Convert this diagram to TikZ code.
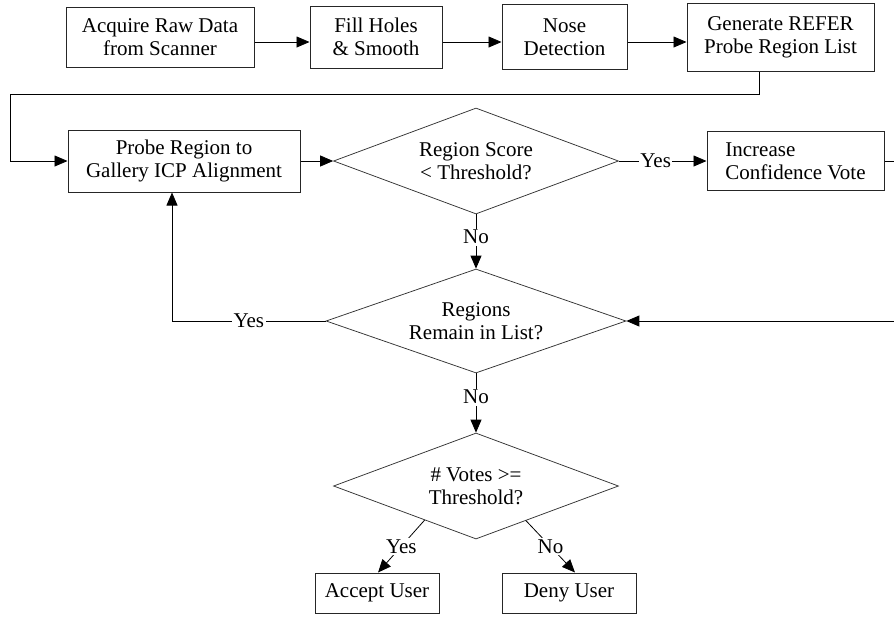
\documentclass[tikz,border=0pt]{standalone}
\usepackage{fontspec}
\setmainfont{Liberation Serif}
\usetikzlibrary{shapes.geometric,arrows.meta,calc}
\begin{document}
\begin{tikzpicture}[x=1pt,y=-1pt,
  every node/.style={font=\fontsize{21}{23}\selectfont, inner sep=0pt},
  box/.style={draw=black!85, line width=1pt, align=center},
  dia/.style={draw=black!80, diamond, line width=0.75pt, align=center, aspect=2.7},
  arr/.style={line width=0.8pt, -{Triangle[length=13pt,width=11pt]}},
  lbl/.style={fill=white, inner sep=1.5pt}]
\useasboundingbox (0,0) rectangle (894,616);
% top row
\node[box, minimum width=188, minimum height=60] (b1) at (160,37) {Acquire Raw Data\\from Scanner};
\node[box, minimum width=132, minimum height=62] (b2) at (376,37) {Fill Holes\\\& Smooth};
\node[box, minimum width=125, minimum height=65] (b3) at (564.5,37) {Nose\\Detection};
\node[box, minimum width=187, minimum height=68] (b4) at (780.5,37) {Generate REFER\\Probe Region List};
% second row
\node[box, minimum width=232, minimum height=62] (b5) at (184,161) {Probe Region to\\Gallery ICP Alignment};
\node[dia, minimum width=285, minimum height=106] (d1) at (476,161) {Region Score\\< Threshold?};
\node[box, align=left, minimum width=177, minimum height=59] (b6) at (795.5,161) {Increase\\Confidence Vote};
% lower
\node[dia, minimum width=300, minimum height=104] (d2) at (476,321) {Regions\\Remain in List?};
\node[dia, minimum width=285, minimum height=106] (d3) at (476,486) {\# Votes >=\\Threshold?};
\node[box, minimum width=124, minimum height=40] (acc) at (377,593) {Accept User};
\node[box, minimum width=134, minimum height=40] (deny) at (569,593) {Deny User};
% helper coordinates
\coordinate (t1) at (10,94);
\coordinate (r1) at (897,161);
% connectors
\draw[arr] ([yshift=-5]b1.east) -- ([yshift=-5]b2.west);
\draw[arr] ([yshift=-5]b2.east) -- ([yshift=-5]b3.west);
\draw[arr] ([yshift=-5]b3.east) -- ([yshift=-5]b4.west);
\draw[arr] ([xshift=-21.5]b4.south) |- (t1) |- (b5.west);
\draw[arr] (b5.east) -- (d1.west);
\draw[arr] (d1.east) -- node[lbl, pos=0.42]{Yes} (b6.west);
\draw[arr] (b6.east) -- (r1) |- (d2.east);
\draw[arr] (d1.south) -- node[lbl, pos=0.42]{No} (d2.north);
\draw[arr] (d2.south) -- node[lbl, pos=0.4]{No} (d3.north);
\draw[arr] (d2.west) -| node[lbl, pos=0.25]{Yes} ([xshift=-12]b5.south);
\draw[arr] ($(d3.west)!0.64!(d3.south)$) -- node[lbl]{Yes} ([xshift=1]acc.north);
\draw[arr] ($(d3.east)!0.65!(d3.south)$) -- node[lbl]{No} ([xshift=6]deny.north);
\end{tikzpicture}
\end{document}
